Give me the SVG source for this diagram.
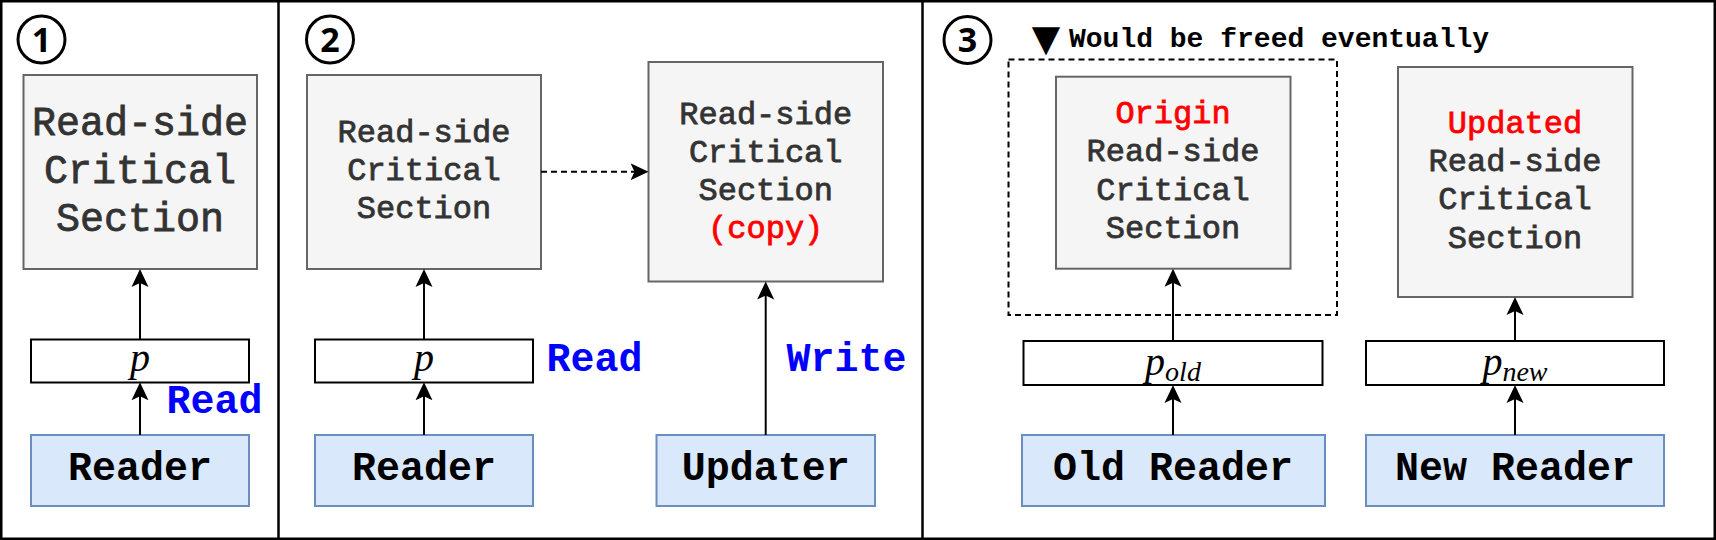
<svg xmlns="http://www.w3.org/2000/svg" width="1716" height="540" viewBox="0 0 1716 540">
<defs>
<style>
.frame{fill:none;stroke:#000;stroke-width:2.5}
.div{stroke:#000;stroke-width:2.5}
.cs{fill:#f5f5f5;stroke:#666666;stroke-width:2}
.ptr{fill:#ffffff;stroke:#000;stroke-width:2}
.rd{fill:#dae8fc;stroke:#6c8ebf;stroke-width:2}
.mono{font-family:"Liberation Mono","DejaVu Sans Mono",monospace;text-anchor:middle}
.cst{fill:#333333;stroke:#333333;stroke-width:0.8}
.big{font-size:40px}
.mid{font-size:32px}
.red{fill:#ff0000;stroke:#ff0000}
.lbl{font-family:"Liberation Mono","DejaVu Sans Mono",monospace;font-weight:bold;font-size:40px;fill:#000;text-anchor:middle}
.op{font-family:"Liberation Mono","DejaVu Sans Mono",monospace;font-weight:bold;font-size:40px;fill:#0000ff}
.math{font-family:"Liberation Serif","DejaVu Serif",serif;font-style:italic;font-size:40px;fill:#000;text-anchor:middle}
.ring{fill:none;stroke:#000;stroke-width:3}
.num{font-family:"Noto Sans","DejaVu Sans",sans-serif;font-weight:bold;font-size:34px;fill:#000;text-anchor:middle}
.conn{stroke:#000;stroke-width:2;fill:none}
.dash{stroke-dasharray:6 4}
</style>
<marker id="ah" markerUnits="userSpaceOnUse" markerWidth="20" markerHeight="20" viewBox="0 0 20 20" refX="8" refY="10" orient="auto">
<path d="M18,10 L0,1.5 L4,10 L0,18.5 Z" fill="#000"/>
</marker>
</defs>
<rect x="0" y="0" width="1716" height="540" fill="#ffffff"/>
<rect class="frame" x="1.25" y="1.25" width="1713.5" height="537.5"/>
<line class="div" x1="278.5" y1="0" x2="278.5" y2="540"/>
<line class="div" x1="922.5" y1="0" x2="922.5" y2="540"/>

<g id="step1-label"><circle class="ring" cx="41.5" cy="39.5" r="23.5"/><text class="num" x="41.5" y="51.6">1</text></g>
<g id="step2-label"><circle class="ring" cx="330" cy="39.5" r="23.5"/><text class="num" x="330" y="51.6">2</text></g>
<g id="step3-label"><circle class="ring" cx="967.5" cy="40" r="23.5"/><text class="num" x="967.5" y="52.1">3</text></g>

<g id="cs1">
<rect class="cs" x="23.5" y="75" width="233.5" height="194"/>
<text class="mono cst big"><tspan x="140" y="135">Read-side</tspan><tspan x="140" y="183">Critical</tspan><tspan x="140" y="231">Section</tspan></text>
</g>
<g id="p1">
<rect class="ptr" x="31" y="339.5" width="218" height="43"/>
<text class="math" x="140" y="371">p</text>
</g>
<g id="reader1">
<rect class="rd" x="31" y="435" width="218" height="71"/>
<text class="lbl" x="140" y="480">Reader</text>
</g>
<text id="read1" class="op" x="166.5" y="413">Read</text>

<g id="cs2">
<rect class="cs" x="307" y="75" width="234" height="194"/>
<text class="mono cst mid"><tspan x="424" y="142">Read-side</tspan><tspan x="424" y="180">Critical</tspan><tspan x="424" y="218">Section</tspan></text>
</g>
<g id="p2">
<rect class="ptr" x="315" y="339.5" width="218" height="43"/>
<text class="math" x="424" y="371">p</text>
</g>
<g id="reader2">
<rect class="rd" x="315" y="435" width="218" height="71"/>
<text class="lbl" x="424" y="480">Reader</text>
</g>
<text id="read2" class="op" x="546.5" y="371">Read</text>

<g id="cs-copy">
<rect class="cs" x="648.5" y="62" width="234.5" height="219.5"/>
<text class="mono cst mid"><tspan x="765.7" y="123.5">Read-side</tspan><tspan x="765.7" y="161.5">Critical</tspan><tspan x="765.7" y="199.5">Section</tspan><tspan x="765.7" y="237.5" class="red">(copy)</tspan></text>
</g>
<g id="updater">
<rect class="rd" x="656.5" y="435" width="218.5" height="71"/>
<text class="lbl" x="765.7" y="480">Updater</text>
</g>
<text id="write" class="op" x="786.5" y="371">Write</text>

<g id="freed-group">
<rect x="1008.5" y="59.5" width="328.5" height="255.5" fill="none" stroke="#000" stroke-width="2" stroke-dasharray="6 4"/>
<text x="1046" y="51" font-family="DejaVu Sans,sans-serif" font-size="37" text-anchor="middle" fill="#000">▼</text>
<text x="1069" y="47" font-family="Liberation Mono,DejaVu Sans Mono,monospace" font-weight="bold" font-size="28" fill="#000">Would be freed eventually</text>
</g>
<g id="cs-origin">
<rect class="cs" x="1056" y="76.7" width="234.5" height="192"/>
<text class="mono cst mid"><tspan x="1173" y="123" class="red">Origin</tspan><tspan x="1173" y="161">Read-side</tspan><tspan x="1173" y="199.5">Critical</tspan><tspan x="1173" y="238">Section</tspan></text>
</g>
<g id="p-old">
<rect class="ptr" x="1023.5" y="341" width="299" height="44"/>
<text class="math" x="1173" y="375">p<tspan font-size="28" dy="6">old</tspan></text>
</g>
<g id="old-reader">
<rect class="rd" x="1022" y="435" width="303" height="71"/>
<text class="lbl" x="1173" y="480">Old Reader</text>
</g>

<g id="cs-updated">
<rect class="cs" x="1398" y="67" width="234.5" height="230"/>
<text class="mono cst mid"><tspan x="1515" y="132.5" class="red">Updated</tspan><tspan x="1515" y="171">Read-side</tspan><tspan x="1515" y="209">Critical</tspan><tspan x="1515" y="247.5">Section</tspan></text>
</g>
<g id="p-new">
<rect class="ptr" x="1366" y="341" width="298" height="44"/>
<text class="math" x="1515" y="375">p<tspan font-size="28" dy="6">new</tspan></text>
</g>
<g id="new-reader">
<rect class="rd" x="1366" y="435" width="298" height="71"/>
<text class="lbl" x="1515" y="480">New Reader</text>
</g>

<g id="connectors">
<line class="conn" x1="140" y1="435" x2="140" y2="392.3" marker-end="url(#ah)"/>
<line class="conn" x1="140" y1="339.5" x2="140" y2="279" marker-end="url(#ah)"/>
<line class="conn" x1="424" y1="435" x2="424" y2="392.3" marker-end="url(#ah)"/>
<line class="conn" x1="424" y1="339.5" x2="424" y2="279" marker-end="url(#ah)"/>
<line class="conn dash" x1="541" y1="171.7" x2="638.5" y2="171.7" marker-end="url(#ah)"/>
<line class="conn" x1="765.7" y1="435" x2="765.7" y2="291.5" marker-end="url(#ah)"/>
<line class="conn" x1="1173" y1="435" x2="1173" y2="395" marker-end="url(#ah)"/>
<line class="conn" x1="1173" y1="341" x2="1173" y2="278.7" marker-end="url(#ah)"/>
<line class="conn" x1="1515" y1="435" x2="1515" y2="395" marker-end="url(#ah)"/>
<line class="conn" x1="1515" y1="341" x2="1515" y2="307" marker-end="url(#ah)"/>
</g>
</svg>
